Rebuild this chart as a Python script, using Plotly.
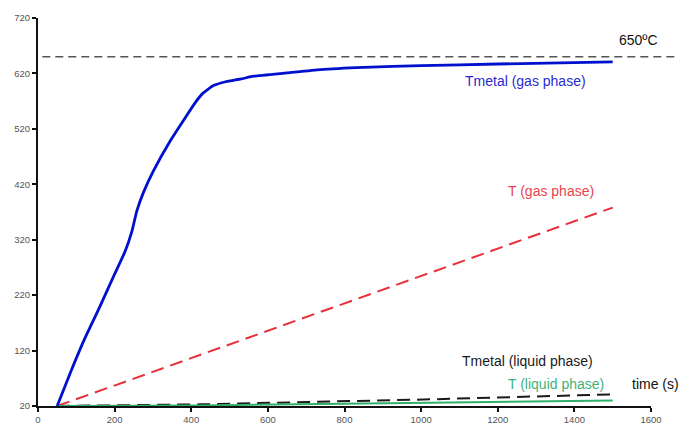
import plotly.graph_objects as go

# Temperature histories (time in s, temperature in ºC)
t_metal_gas = [50, 85, 119, 160, 198, 228, 245, 258, 275, 302, 345, 389, 410,
               430, 458, 490, 530, 563, 650, 737, 850, 1000, 1200, 1500]
T_metal_gas = [20, 81, 137, 197, 255, 300, 335, 372, 405, 445, 498, 545, 567,
               584, 598, 605, 610, 615, 621, 627, 631, 634, 637, 641]

t_gas = [50, 1500]
T_gas = [20, 378]

t_metal_liquid = [50, 424, 1023, 1500]
T_metal_liquid = [20, 23, 32, 41]

t_liquid = [50, 424, 1023, 1500]
T_liquid = [20, 21, 26, 30]

limit_T = 650

x_ticks = [0, 200, 400, 600, 800, 1000, 1200, 1400, 1600]
y_ticks = [20, 120, 220, 320, 420, 520, 620, 720]

FONT = "Liberation Sans, Arial, sans-serif"

fig = go.Figure()

fig.add_trace(go.Scatter(x=t_gas, y=T_gas, mode="lines",
                         line=dict(color="#e8303a", width=2, dash="13px,7px")))
fig.add_trace(go.Scatter(x=t_metal_liquid, y=T_metal_liquid, mode="lines",
                         line=dict(color="#1a1a1a", width=2, dash="13px,7px")))
fig.add_trace(go.Scatter(x=t_liquid, y=T_liquid, mode="lines",
                         line=dict(color="#2fb06a", width=2)))
fig.add_trace(go.Scatter(x=t_metal_gas, y=T_metal_gas, mode="lines",
                         line=dict(color="#0010cc", width=2.8, shape="spline", smoothing=0.5)))

# Reference temperature line, running a little past the x axis end
fig.add_shape(type="line", xref="paper", yref="y", x0=0.007, x1=1.041,
              y0=limit_T, y1=limit_T,
              line=dict(color="#555555", width=1.5, dash="8px,5px"))

def label(text, x, y, color):
    fig.add_annotation(x=x, y=y, xref="x", yref="y", text=text, showarrow=False,
                       xanchor="left", yanchor="middle",
                       font=dict(family=FONT, size=14, color=color))

label("T (ºC)", 23, 722, "#111111")
label("650ºC", 1512, 681, "#111111")
label("Tmetal (gas phase)", 1109, 607, "#2a2ad0")
label("T (gas phase)", 1222, 407, "#e8454c")
label("Tmetal (liquid phase)", 1101, 101, "#1a1a1a")
label("T (liquid phase)", 1222, 59, "#3fb27a")
label("time (s)", 1545, 59, "#111111")

axis_common = dict(showgrid=False, zeroline=False, showline=True, linecolor="#111111",
                   ticks="outside", tickcolor="#111111", ticklen=4, tickwidth=1.5,
                   tickfont=dict(family=FONT, size=9.5, color="#555555"))

fig.update_xaxes(range=[0, 1600], tickvals=x_ticks, linewidth=1.5, **axis_common)
fig.update_yaxes(range=[20, 720], tickvals=y_ticks, linewidth=2, **axis_common)

fig.update_layout(width=686, height=437, showlegend=False,
                  margin=dict(l=38, r=35, t=18, b=23),
                  plot_bgcolor="white", paper_bgcolor="white")

fig.write_html("out.html")
